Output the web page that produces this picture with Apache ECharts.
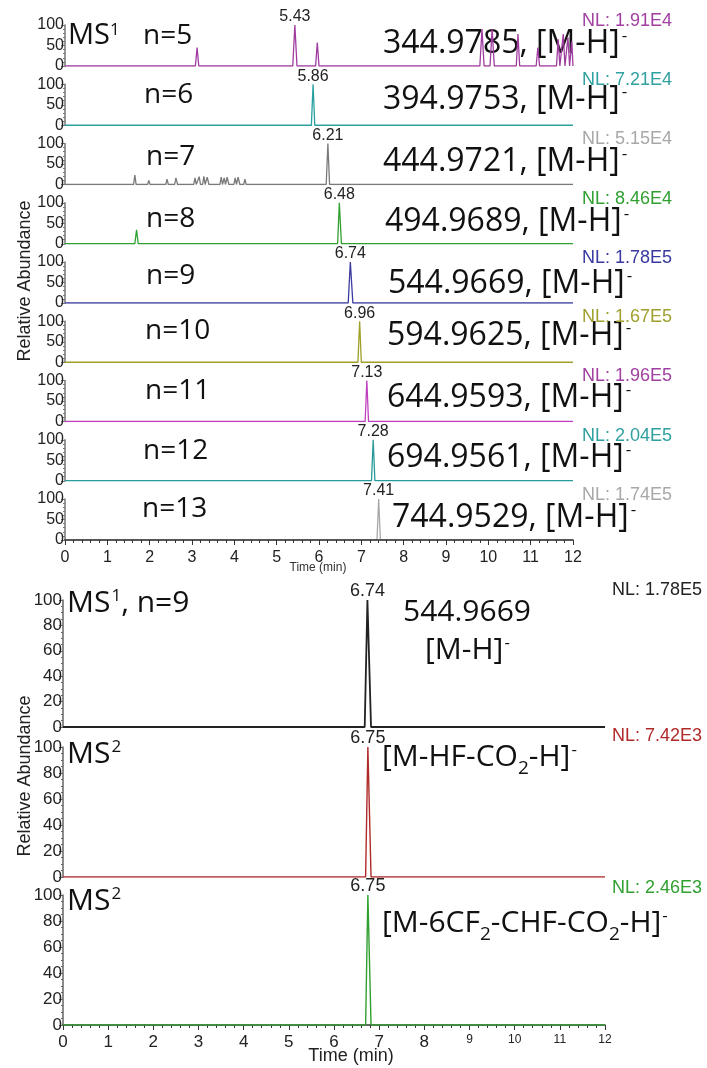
<!DOCTYPE html>
<html><head><meta charset="utf-8">
<script src="https://cdn.jsdelivr.net/npm/echarts@6/dist/echarts.min.js"></script>
<style>html,body{margin:0;padding:0;background:#fff}#c{width:707px;height:1068px}</style>
</head><body><div id="c"></div>
<script>
// ---------- DATA ----------
const xTicks = [0,1,2,3,4,5,6,7,8,9,10,11,12];
const yTicksTop = [0,50,100];
const yTicksBottom = [0,20,40,60,80,100];

const trace5 = [[0,0],[3.08,0],[3.12,45],[3.16,0],[5.38,0],[5.43,100],[5.48,0],[5.92,0],[5.96,57],[6.0,0],
  [9.80,0],[9.85,90],[9.90,0],[10.04,0],[10.09,90],[10.14,0],[10.66,0],[10.70,78],[10.74,0],[11.13,0],[11.17,45],[11.21,0],
  [11.61,0],[11.65,65],[11.69,0],[11.73,0],[11.77,78],[11.81,0],[11.84,0],[11.88,70],[11.92,0],[11.94,0],[11.97,60],[12,0]];
const trace6 = [[0,0],[5.82,0],[5.86,100],[5.90,0],[12,0]];
const trace7 = [[0,0],[1.62,0],[1.65,23],[1.68,0],[1.95,0],[1.98,10],[2.01,0],[2.38,0],[2.41,13],[2.44,0],[2.59,0],[2.62,16],[2.66,0],
  [3.04,0],[3.07,16],[3.10,0],[3.14,0],[3.17,19],[3.20,0],[3.25,0],[3.28,20],[3.31,0],[3.33,0],[3.36,18],[3.40,0],
  [3.66,0],[3.69,18],[3.72,0],[3.73,0],[3.76,16],[3.79,0],[3.80,0],[3.83,18],[3.87,0],[3.99,0],[4.02,16],[4.05,0],[4.06,0],[4.09,18],[4.13,0],
  [4.22,0],[4.25,13],[4.28,0],[6.17,0],[6.21,100],[6.25,0],[12,0]];
const trace8 = [[0,0],[1.65,0],[1.69,34],[1.73,0],[6.44,0],[6.48,100],[6.53,0],[12,0]];
const trace9 = [[0,0],[6.69,0],[6.74,100],[6.80,0],[12,0]];
const trace10 = [[0,0],[1.10,0],[1.14,4],[1.18,0],[1.35,0],[1.39,3],[1.43,0],[1.55,0],[1.59,4],[1.63,0],[1.80,0],[1.84,3],[1.88,0],
  [2.10,0],[2.14,4],[2.18,0],[2.40,0],[2.44,3],[2.48,0],[2.70,0],[2.74,3],[2.78,0],[3.00,0],[3.04,3],[3.08,0],
  [3.70,0],[3.74,3],[3.78,0],[4.00,0],[4.04,2],[4.08,0],[4.80,0],[4.84,4],[4.88,0],[6.92,0],[6.96,100],[7.00,0],[12,0]];
const trace11 = [[0,0],[1.20,0],[1.24,3],[1.28,0],[1.50,0],[1.54,2],[1.58,0],[1.80,0],[1.84,3],[1.88,0],[2.20,0],[2.24,2],[2.28,0],
  [2.60,0],[2.64,3],[2.68,0],[3.10,0],[3.14,2],[3.18,0],[3.60,0],[3.64,2],[3.68,0],[4.50,0],[4.54,2],[4.58,0],
  [7.09,0],[7.13,100],[7.17,0],[12,0]];
const trace12 = [[0,0],[7.24,0],[7.28,100],[7.32,0],[12,0]];
const trace13 = [[0,0],[7.37,0],[7.41,100],[7.45,0],[12,0]];

const traceMS1 = [[0,0],[6.68,0],[6.74,100],[6.82,0],[12,0]];
const traceMS2a = [[0,0],[6.70,0],[6.75,100],[6.82,0],[12,0]];
const traceMS2b = [[0,0],[6.70,0],[6.75,100],[6.82,0],[12,0]];

const nLabels = ['n=5','n=6','n=7','n=8','n=9','n=10','n=11','n=12','n=13'];
const massLabels = ['344.9785','394.9753','444.9721','494.9689','544.9669','594.9625','644.9593','694.9561','744.9529'];
const nlTop = ['NL: 1.91E4','NL: 7.21E4','NL: 5.15E4','NL: 8.46E4','NL: 1.78E5','NL: 1.67E5','NL: 1.96E5','NL: 2.04E5','NL: 1.74E5'];
const peakTop = [5.43,5.86,6.21,6.48,6.74,6.96,7.13,7.28,7.41];
const peakBottom = [6.74,6.75,6.75];
const nlBottom = ['NL: 1.78E5','NL: 7.42E3','NL: 2.46E3'];

const topTraces = [trace5,trace6,trace7,trace8,trace9,trace10,trace11,trace12,trace13];
const bottomTraces = [traceMS1,traceMS2a,traceMS2b];

// ---------- STYLE ----------
const lineColors = ['#a03ca0','#2aa0a0','#7a7a7a','#30a030','#3a3aa0','#a0a028','#c040c0','#2a9a9a','#a8a8a8'];
const nlColors   = ['#a040a0','#30a0a0','#a8a8a8','#30a030','#3838a0','#a0a030','#a040a0','#30a0a0','#a8a8a8'];
const bottomColors = ['#222222','#b02a2a','#30a030'];
const AF = '"Liberation Sans", Arial, sans-serif';
const TF = '"Open Sans", "Noto Sans", sans-serif';

const massX = [383,383,383,385,388,387,387,387,392];
const massY = [44,100,162,222,284,336,398,458,518];
const nX = [143,144,146,146,146,145,145,143,142];
const nY = [36,95,157,219,276,331,391,451,509];

const grids = [], xAxes = [], yAxes = [], series = [], graphics = [];

for (let i = 0; i < 9; i++) {
  const base = 66 + 59.25 * i;
  grids.push({left: 65, width: 508, top: base - 41, height: 41});
  const last = i === 8;
  xAxes.push({type:'value', gridIndex:i, min:0, max:12, interval:1, z: last ? 5 : 0,
    axisLine:{show:last, lineStyle:{color:'#333', width:1.5}},
    axisTick:{show:last, length:5, lineStyle:{color:'#333'}},
    minorTick:{show:last, splitNumber:5, length:3, lineStyle:{color:'#333'}},
    axisLabel:{show:last, fontSize:16, color:'#222', fontFamily:AF, margin:10},
    splitLine:{show:false}});
  yAxes.push({type:'value', gridIndex:i, min:0, max:100, interval:50,
    axisLine:{show:true, lineStyle:{color:'#777', width:1.5}},
    axisTick:{show:true, length:4, lineStyle:{color:'#777'}},
    minorTick:{show:true, splitNumber:5, length:2, lineStyle:{color:'#777'}},
    axisLabel:{fontSize:16, color:'#222', fontFamily:AF, margin:1},
    splitLine:{show:false}});
  series.push({type:'line', xAxisIndex:i, yAxisIndex:i, data:topTraces[i], showSymbol:false, animation:false,
    lineStyle:{color:lineColors[i], width:1.3}, itemStyle:{color:lineColors[i]},
    markPoint:{symbol:'circle', symbolSize:0, animation:false,
      data:[{coord:[peakTop[i],100], value:peakTop[i].toFixed(2)}],
      label:{show:true, position:'top', distance:0, fontSize:16, color:'#222', fontFamily:AF, formatter: p => p.value}}});
  graphics.push({type:'text', x:nX[i], y:nY[i], style:{text:nLabels[i], font:'28px '+TF, fill:'#111', verticalAlign:'middle', align:'left'}});
  graphics.push({type:'text', x:massX[i], y:massY[i], style:{text:'{b|'+massLabels[i]+', [M-H]}{s|-}', verticalAlign:'middle', align:'left',
    rich:{b:{fontSize:32, fontFamily:TF, fill:'#111'}, s:{fontSize:17, fontFamily:TF, fill:'#111', verticalAlign:'top', padding:[0,0,0,2]}}}});
  graphics.push({type:'text', x:672, y:base - 45, style:{text:nlTop[i], font:'18px '+AF, fill:nlColors[i], verticalAlign:'middle', align:'right'}});
}
graphics.push({type:'text', x:68, y:36, style:{text:'{b|MS}{s|1}', verticalAlign:'middle', align:'left',
  rich:{b:{fontSize:29, fontFamily:TF, fill:'#111'}, s:{fontSize:17, fontFamily:TF, fill:'#111', verticalAlign:'top'}}}});

const bTops = [600, 747, 895], bHeights = [127, 130, 130];
for (let j = 0; j < 3; j++) {
  const g = 9 + j, last = j === 2;
  grids.push({left: 63, width: 542, top: bTops[j], height: bHeights[j]});
  xAxes.push({type:'value', gridIndex:g, min:0, max:12, interval:1,
    axisLine:{show:last, lineStyle:{color:'#333', width:1.5}},
    axisTick:{show:last, length:5, lineStyle:{color:'#333'}},
    minorTick:{show:last, splitNumber:5, length:3, lineStyle:{color:'#333'}},
    axisLabel:{show:last, color:'#222', fontFamily:AF, margin:9,
      formatter: v => v >= 9 ? '{s|' + v + '}' : '{b|' + v + '}',
      rich:{b:{fontSize:17, fontFamily:AF, color:'#222'}, s:{fontSize:12, fontFamily:AF, color:'#222'}}},
    splitLine:{show:false}});
  yAxes.push({type:'value', gridIndex:g, min:0, max:100, interval:20,
    axisLine:{show:true, lineStyle:{color:'#666', width:1.5}},
    axisTick:{show:true, length:4, lineStyle:{color:'#666'}},
    minorTick:{show:true, splitNumber:4, length:2, lineStyle:{color:'#666'}},
    axisLabel:{fontSize:17, color:'#222', fontFamily:AF, margin:1},
    splitLine:{show:false}});
  series.push({type:'line', xAxisIndex:g, yAxisIndex:g, data:bottomTraces[j], showSymbol:false, animation:false,
    lineStyle:{color:bottomColors[j], width: j === 0 ? 1.8 : 1.4}, itemStyle:{color:bottomColors[j]},
    markPoint:{symbol:'circle', symbolSize:0, animation:false,
      data:[{coord:[peakBottom[j],100], value:peakBottom[j].toFixed(2)}],
      label:{show:true, position:'top', distance:0, fontSize:18, color:'#222', fontFamily:AF, formatter: p => p.value}}});
}
const bNLy = [590, 736, 888];
for (let j = 0; j < 3; j++) {
  graphics.push({type:'text', x:702, y:bNLy[j], style:{text:nlBottom[j], font:'18px '+AF, fill:bottomColors[j], verticalAlign:'middle', align:'right'}});
}
const bigRich = {b:{fontSize:30, fontFamily:TF, fill:'#111'}, s:{fontSize:17, fontFamily:TF, fill:'#111', verticalAlign:'top', padding:[0,0,0,1]},
  u:{fontSize:19, fontFamily:TF, fill:'#111', verticalAlign:'bottom'}};
const subRich = {b:{fontSize:30, fontFamily:TF, fill:'#111'}, s:{fontSize:17, fontFamily:TF, fill:'#111', verticalAlign:'top', padding:[6,0,0,1]},
  u:{fontSize:19, fontFamily:TF, fill:'#111', verticalAlign:'bottom', lineHeight:42}};
graphics.push({type:'text', x:67, y:603, style:{text:'{b|MS}{s|1}{b|, n=9}', verticalAlign:'middle', align:'left', rich:bigRich}});
graphics.push({type:'text', x:403, y:612, style:{text:'{b|544.9669}', verticalAlign:'middle', align:'left', rich:bigRich}});
graphics.push({type:'text', x:425, y:650, style:{text:'{b|[M-H]}{s|-}', verticalAlign:'middle', align:'left', rich:bigRich}});
graphics.push({type:'text', x:67, y:754, style:{text:'{b|MS}{s|2}', verticalAlign:'middle', align:'left', rich:bigRich}});
graphics.push({type:'text', x:382, y:757, style:{text:'{b|[M-HF-CO}{u|2}{b|-H]}{s|-}', verticalAlign:'middle', align:'left', rich:subRich}});
graphics.push({type:'text', x:67, y:901, style:{text:'{b|MS}{s|2}', verticalAlign:'middle', align:'left', rich:bigRich}});
graphics.push({type:'text', x:382, y:923, style:{text:'{b|[M-6CF}{u|2}{b|-CHF-CO}{u|2}{b|-H]}{s|-}', verticalAlign:'middle', align:'left', rich:subRich}});

graphics.push({type:'text', x:25, y:281, rotation:Math.PI/2, style:{text:'Relative Abundance', font:'18px '+AF, fill:'#222', align:'center', verticalAlign:'middle'}});
graphics.push({type:'text', x:25, y:776, rotation:Math.PI/2, style:{text:'Relative Abundance', font:'18px '+AF, fill:'#222', align:'center', verticalAlign:'middle'}});
graphics.push({type:'text', x:318, y:568, style:{text:'Time (min)', font:'12px '+AF, fill:'#333', align:'center', verticalAlign:'middle'}});
graphics.push({type:'text', x:351, y:1056, style:{text:'Time (min)', font:'18px '+AF, fill:'#222', align:'center', verticalAlign:'middle'}});

const chart = echarts.init(document.getElementById('c'), null, {renderer:'canvas'});
chart.setOption({animation:false, backgroundColor:'#fff', grid:grids, xAxis:xAxes, yAxis:yAxes, series:series, graphic:graphics});
</script></body></html>
